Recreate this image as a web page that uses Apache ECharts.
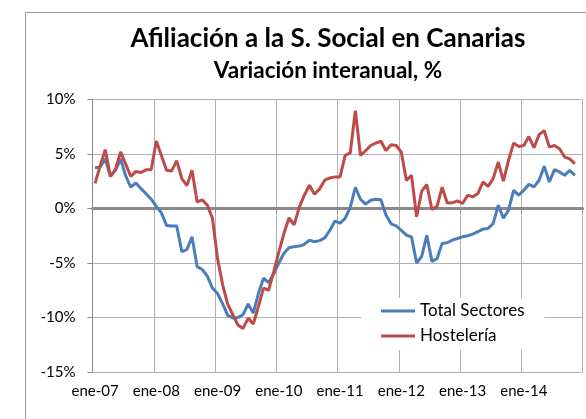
<!DOCTYPE html>
<html><head><meta charset="utf-8">
<script src="https://cdn.jsdelivr.net/npm/echarts@6/dist/echarts.min.js"></script>
<style>html,body{margin:0;padding:0;background:#fff}#c{width:586px;height:419px}</style>
</head><body><div id="c"></div>
<script>
// ---- data ----
const meses = ['ene','feb','mar','abr','may','jun','jul','ago','sep','oct','nov','dic'];
const anios = ['07','08','09','10','11','12','13','14'];
const categorias = anios.flatMap(a => meses.map(m => m + '-' + a));

const totalSectores = [
  3.74, 3.8, 4.56, 2.95, 3.5, 4.56, 3.0, 1.97, 2.34, 1.82, 1.36, 0.85,
  0.2, -0.4, -1.55, -1.6, -1.6, -3.96, -3.75, -2.6, -5.33, -5.6, -6.2, -7.3,
  -7.8, -8.75, -9.8, -10.05, -10.0, -9.74, -8.75, -9.6, -7.8, -6.4, -6.8, -6.0,
  -5.0, -4.1, -3.6, -3.5, -3.45, -3.3, -2.9, -3.05, -2.95, -2.7, -2.0, -1.15,
  -1.35, -0.9, 0.1, 1.95, 0.85, 0.4, 0.75, 0.85, 0.8, -0.6, -1.4, -1.6,
  -2.0, -2.45, -2.6, -5.0, -4.4, -2.45, -4.85, -4.6, -3.2, -3.14, -2.9, -2.75,
  -2.6, -2.5, -2.35, -2.13, -1.89, -1.83, -1.37, 0.3, -0.9, -0.15, 1.67, 1.22,
  1.67, 2.22, 1.98, 2.59, 3.87, 2.43, 3.56, 3.35, 3.04, 3.5, 3.04
];
const hosteleria = [
  2.3, 3.9, 5.4, 2.95, 3.6, 5.2, 4.1, 2.95, 3.4, 3.3, 3.55, 3.55,
  6.2, 4.87, 3.5, 3.45, 4.4, 2.75, 2.1, 3.5, 0.6, 0.8, 0.3, -0.9,
  -4.6, -7.0, -8.8, -9.75, -10.7, -11.0, -10.05, -10.6, -9.0, -7.3, -7.5, -5.8,
  -4.0, -2.3, -0.85, -1.5, 0.1, 1.22, 2.13, 1.3, 1.8, 2.6, 2.8, 2.9,
  2.9, 4.87, 5.1, 8.98, 4.87, 5.3, 5.78, 6.0, 6.17, 5.32, 5.84, 5.78,
  5.17, 2.58, 3.04, -0.76, 1.6, 2.2, -0.1, 0.2, 1.95, 0.5, 0.52, 0.7,
  0.46, 1.22, 1.06, 1.37, 2.43, 2.03, 2.74, 4.26, 2.52, 4.41, 6.0, 5.69,
  5.78, 6.6, 5.57, 6.78, 7.15, 5.63, 5.78, 5.48, 4.72, 4.56, 4.11
];
const yMin = -15, yMax = 10, yStep = 5;

const FONT = 'Lato';
const chart = echarts.init(document.getElementById('c'), null, {renderer: 'canvas'});
chart.setOption({
  animation: false,
  backgroundColor: '#fff',
  textStyle: {fontFamily: FONT},
  title: [
    {text: 'Afiliación a la S. Social en Canarias', left: 323, top: 21, textAlign: 'center',
     textStyle: {fontFamily: FONT, fontWeight: 'bold', fontSize: 26, color: '#000'}},
    {text: 'Variación interanual, %', left: 323, top: 54, textAlign: 'center',
     textStyle: {fontFamily: FONT, fontWeight: 'bold', fontSize: 22.5, color: '#000'}}
  ],
  graphic: [{type: 'rect', shape: {x: 25.5, y: 12.5, width: 700, height: 600},
    style: {fill: 'none', stroke: '#9a9a9a', lineWidth: 1}, silent: true, z: -1}],
  legend: {
    data: ['Total Sectores', 'Hostelería'],
    orient: 'vertical', left: 361, top: 298,
    padding: [4, 20, 5, 20], itemGap: 7,
    icon: 'rect', itemWidth: 34, itemHeight: 3,
    backgroundColor: '#fff',
    textStyle: {fontFamily: FONT, fontSize: 17, color: '#000', lineHeight: 18}
  },
  grid: {left: 92.5, top: 99.5, width: 490, height: 272.5, containLabel: false},
  xAxis: [
    {type: 'category', data: categorias, boundaryGap: true, position: 'bottom',
     axisLine: {show: false, onZero: false}, axisTick: {show: false},
     axisLabel: {interval: 11, margin: 12, fontFamily: FONT, fontSize: 15, color: '#000'},
     splitLine: {show: true, interval: 11, lineStyle: {color: '#b2b2b2', width: 1}}},
    {type: 'category', data: categorias, boundaryGap: true, position: 'bottom',
     axisLine: {show: true, onZero: true, lineStyle: {color: '#8a8a8a', width: 3}},
     axisTick: {show: true, interval: 11, length: 4, lineStyle: {color: '#8a8a8a', width: 1}},
     axisLabel: {show: false}, splitLine: {show: false}}
  ],
  yAxis: {
    type: 'value', min: yMin, max: yMax, interval: yStep,
    axisLine: {show: true, lineStyle: {color: '#8a8a8a', width: 1}},
    axisTick: {show: true, length: 5, lineStyle: {color: '#8a8a8a'}},
    axisLabel: {margin: 17, fontFamily: FONT, fontSize: 15, color: '#000',
      formatter: v => v + '%'},
    splitLine: {show: true, lineStyle: {color: '#b2b2b2', width: 1}}
  },
  series: [
    {name: 'Total Sectores', type: 'line', xAxisIndex: 0, data: totalSectores,
     showSymbol: false, symbol: 'none', color: '#4A7EBB',
     lineStyle: {width: 3, color: '#4A7EBB'}, z: 3},
    {name: 'Hostelería', type: 'line', xAxisIndex: 0, data: hosteleria,
     showSymbol: false, symbol: 'none', color: '#BE4B48',
     lineStyle: {width: 3, color: '#BE4B48'}, z: 4}
  ]
});
</script></body></html>
